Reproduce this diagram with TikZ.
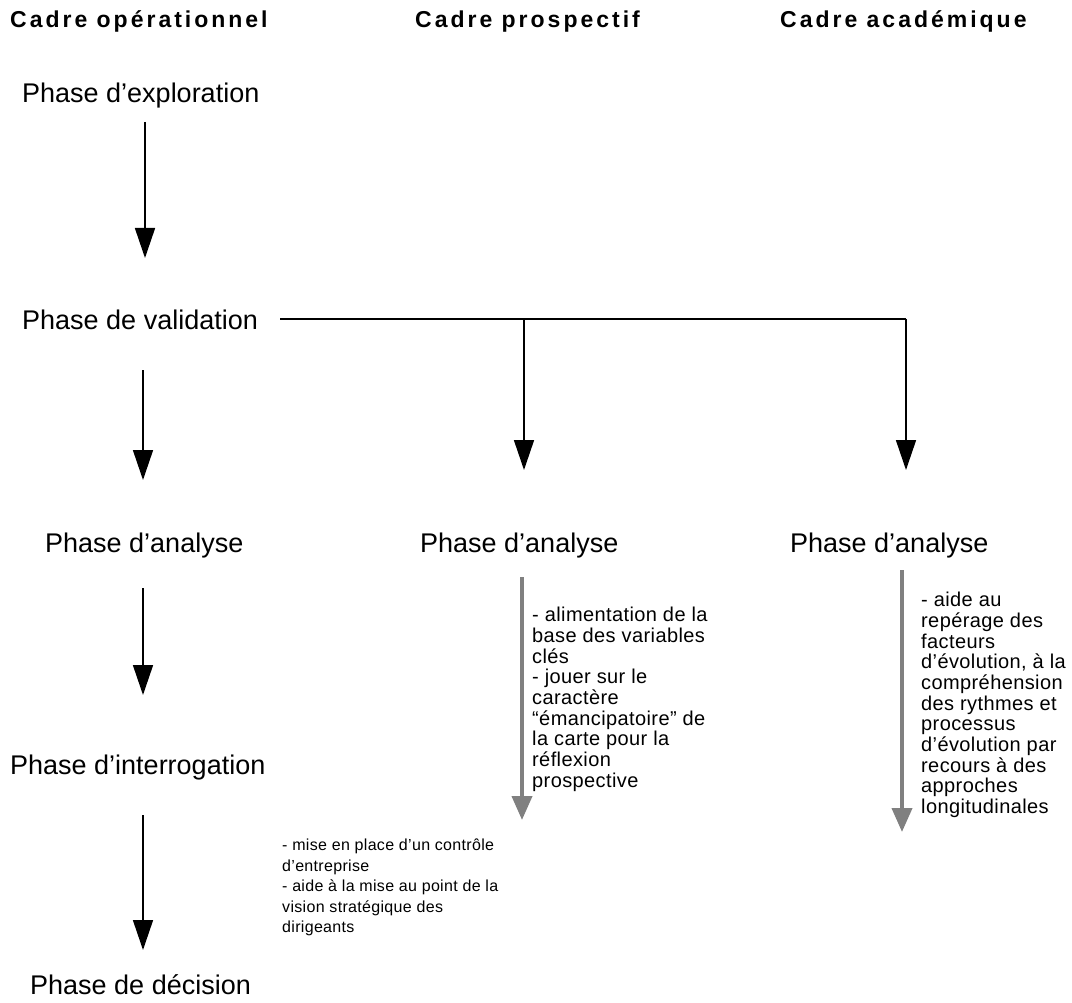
\documentclass[tikz,border=0pt]{standalone}
\usepackage{fontspec}
\setmainfont{Liberation Sans}
\usetikzlibrary{arrows.meta}
\definecolor{arrgray}{HTML}{808080}
\begin{document}
\begin{tikzpicture}[x=1pt,y=-1pt,
  title/.style={anchor=base west,inner sep=0pt,font=\fontsize{23}{26}\selectfont\bfseries\addfontfeature{LetterSpace=13}},
  phase/.style={anchor=west,inner sep=0pt,font=\fontsize{27}{30}\selectfont},
  note/.style={anchor=north west,inner sep=0pt,align=left,font=\fontsize{20}{20.7}\selectfont\addfontfeature{LetterSpace=2}},
  noteb/.style={anchor=north west,inner sep=0pt,align=left,font=\fontsize{16}{20.5}\selectfont\addfontfeature{LetterSpace=2}},
  blk/.style={line width=1.6pt,-{Triangle[width=20pt,length=30pt]}},
  gry/.style={draw=arrgray,line width=4pt,-{Triangle[width=20pt,length=24pt]},arrgray}]
\useasboundingbox (0,0) rectangle (1072,1003);
\node[title] (t1) at (10,28) {Cadre opérationnel};
\node[title] (t2) at (415,28) {Cadre prospectif};
\node[title] (t3) at (780,28) {Cadre académique};
\node[phase] (explo) at (22,96) {Phase d’exploration};
\node[phase] (valid) at (22,320) {Phase de validation};
\node[phase] (ana1) at (45,546) {Phase d’analyse};
\node[phase] (ana2) at (420,546) {Phase d’analyse};
\node[phase] (ana3) at (790,546) {Phase d’analyse};
\node[phase] (inter) at (10,768) {Phase d’interrogation};
\node[phase] (deci) at (30,985) {Phase de décision};
\coordinate (a1s) at (145,122); \coordinate (a1e) at (145,258);
\coordinate (a2s) at (143,370); \coordinate (a2e) at (143,480);
\coordinate (a3s) at (143,588); \coordinate (a3e) at (143,695);
\coordinate (a4s) at (143,815); \coordinate (a4e) at (143,950);
\draw[blk] (a1s) -- (a1e);
\draw[blk] (a2s) -- (a2e);
\draw[blk] (a3s) -- (a3e);
\draw[blk] (a4s) -- (a4e);
\coordinate (hl) at (280,319); \coordinate (hm) at (524,319); \coordinate (hr) at (906,319);
\draw[line width=2.6pt] (hl) -- (hr);
\draw[blk] (hm) -- (524,470);
\draw[blk] (hr) -- (906,470);
\coordinate (g2s) at (522,577); \coordinate (g2e) at (522,820);
\coordinate (g3s) at (902,570); \coordinate (g3e) at (902,832);
\draw[gry] (g2s) -- (g2e);
\draw[gry] (g3s) -- (g3e);
\node[note] (n2) at (532,607) {- alimentation de la\\base des variables\\clés\\- jouer sur le\\caractère\\“émancipatoire” de\\la carte pour la\\réflexion\\prospective};
\node[note] (n3) at (921,592) {- aide au\\repérage des\\facteurs\\d’évolution, à la\\compréhension\\des rythmes et\\processus\\d’évolution par\\recours à des\\approches\\longitudinales};
\node[noteb] (n1) at (282,839) {- mise en place d’un contrôle\\d’entreprise\\- aide à la mise au point de la\\vision stratégique des\\dirigeants};
\end{tikzpicture}
\end{document}
